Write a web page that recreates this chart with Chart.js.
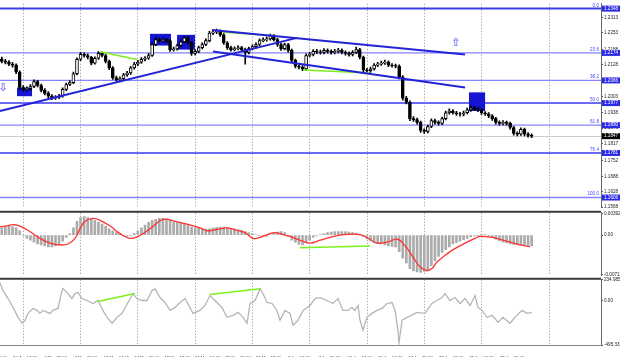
<!DOCTYPE html>
<html><head><meta charset="utf-8">
<script src="https://cdn.jsdelivr.net/npm/chart.js@4.4.1/dist/chart.umd.min.js"></script>
<style>
html,body{margin:0;padding:0;background:#fff;width:620px;height:357px;overflow:hidden;position:relative}
canvas{position:absolute}
</style></head><body>
<canvas id="cp" width="660" height="211" style="left:-40px;top:0px;width:660px;height:211px"></canvas>
<canvas id="cm" width="660" height="70" style="left:-40px;top:209px;width:660px;height:70px"></canvas>
<canvas id="cc" width="660" height="81" style="left:-40px;top:276px;width:660px;height:81px"></canvas>
<script>
// ---------------- DATA ----------------
const timeLabels = ["27 Apr 12:00","30 Apr 04:00","4 May 20:00","7 May 12:00","12 May 04:00","14 May 20:00","19 May 12:00","24 May 04:00","26 May 20:00","31 May 12:00","3 Jun 04:00","7 Jun 20:00","10 Jun 12:00","15 Jun 04:00","17 Jun 20:00","22 Jun 12:00","25 Jun 04:00","29 Jun 20:00"];

const opens = [
1.2150,1.2141,1.2138,1.2130,1.2126,1.2099,1.2038,1.2031,1.2034,1.2042,
1.2061,1.2046,1.2027,1.2015,1.2004,1.1996,1.1999,1.2004,1.2031,1.2050,
1.2057,1.2092,1.2149,1.2168,1.2164,1.2157,1.2134,1.2153,1.2172,1.2164,
1.2141,1.2115,1.2076,1.2069,1.2073,1.2088,1.2095,1.2115,1.2130,1.2138,
1.2149,1.2153,1.2164,1.2207,1.2226,1.2222,1.2226,1.2222,1.2187,1.2190,
1.2203,1.2218,1.2233,1.2214,1.2172,1.2180,1.2195,1.2207,1.2222,1.2252,
1.2256,1.2260,1.2245,1.2214,1.2195,1.2187,1.2191,1.2195,1.2187,1.2176,
1.2191,1.2199,1.2207,1.2222,1.2226,1.2229,1.2241,1.2226,1.2207,1.2191,
1.2207,1.2184,1.2145,1.2122,1.2118,1.2111,1.2164,1.2168,1.2180,1.2178,
1.2176,1.2184,1.2180,1.2176,1.2180,1.2184,1.2176,1.2172,1.2168,1.2176,
1.2187,1.2157,1.2107,1.2103,1.2111,1.2126,1.2130,1.2134,1.2138,1.2126,
1.2124,1.2122,1.2080,1.1996,1.1981,1.1916,1.1912,1.1901,1.1870,1.1866,
1.1885,1.1908,1.1901,1.1897,1.1916,1.1939,1.1946,1.1939,1.1935,1.1933,
1.1939,1.1950,1.1958,1.1955,1.1950,1.1939,1.1935,1.1927,1.1916,1.1901,
1.1897,1.1901,1.1897,1.1881,1.1858,1.1855,1.1874,1.1855,1.1850];
const highs = [
1.2158,1.2149,1.2144,1.2137,1.2131,1.2104,1.2046,1.2041,1.2050,1.2068,
1.2066,1.2052,1.2034,1.2022,1.2010,1.2006,1.2011,1.2037,1.2056,1.2064,
1.2099,1.2155,1.2176,1.2174,1.2170,1.2161,1.2159,1.2179,1.2178,1.2168,
1.2146,1.2120,1.2083,1.2080,1.2094,1.2102,1.2121,1.2137,1.2145,1.2156,
1.2160,1.2171,1.2213,1.2234,1.2232,1.2233,1.2231,1.2227,1.2197,1.2209,
1.2225,1.2240,1.2238,1.2219,1.2187,1.2201,1.2214,1.2229,1.2259,1.2264,
1.2268,1.2265,1.2250,1.2219,1.2201,1.2198,1.2203,1.2200,1.2193,1.2197,
1.2206,1.2214,1.2229,1.2233,1.2237,1.2248,1.2246,1.2231,1.2212,1.2213,
1.2212,1.2189,1.2150,1.2128,1.2124,1.2170,1.2176,1.2187,1.2188,1.2185,
1.2191,1.2190,1.2186,1.2188,1.2192,1.2190,1.2182,1.2178,1.2183,1.2197,
1.2192,1.2162,1.2113,1.2118,1.2132,1.2137,1.2142,1.2146,1.2143,1.2132,
1.2130,1.2127,1.2085,1.2003,1.1986,1.1924,1.1918,1.1906,1.1876,1.1891,
1.1915,1.1914,1.1907,1.1922,1.1946,1.1954,1.1951,1.1945,1.1941,1.1946,
1.1957,1.1966,1.1964,1.1960,1.1955,1.1944,1.1940,1.1932,1.1921,1.1907,
1.1908,1.1906,1.1902,1.1886,1.1864,1.1880,1.1879,1.1861,1.1856];
const lows = [
1.2135,1.2131,1.2124,1.2118,1.2092,1.2030,1.2024,1.2025,1.2028,1.2037,
1.2040,1.2021,1.2009,1.1998,1.1990,1.1991,1.1994,1.2000,1.2026,1.2045,
1.2053,1.2088,1.2144,1.2157,1.2150,1.2127,1.2130,1.2148,1.2158,1.2135,
1.2108,1.2070,1.2062,1.2064,1.2068,1.2082,1.2090,1.2110,1.2124,1.2133,
1.2143,1.2148,1.2160,1.2202,1.2215,1.2216,1.2214,1.2180,1.2181,1.2185,
1.2198,1.2212,1.2207,1.2164,1.2166,1.2175,1.2190,1.2202,1.2217,1.2246,
1.2250,1.2239,1.2207,1.2188,1.2181,1.2182,1.2186,1.2180,1.2130,1.2170,
1.2186,1.2193,1.2202,1.2217,1.2220,1.2224,1.2220,1.2200,1.2184,1.2186,
1.2177,1.2138,1.2115,1.2111,1.2104,1.2106,1.2158,1.2162,1.2171,1.2169,
1.2170,1.2173,1.2169,1.2170,1.2174,1.2170,1.2165,1.2161,1.2162,1.2171,
1.2150,1.2100,1.2096,1.2097,1.2106,1.2120,1.2125,1.2129,1.2120,1.2118,
1.2115,1.2072,1.1988,1.1974,1.1908,1.1905,1.1894,1.1862,1.1858,1.1860,
1.1880,1.1894,1.1890,1.1892,1.1911,1.1933,1.1933,1.1928,1.1926,1.1927,
1.1934,1.1944,1.1948,1.1943,1.1932,1.1928,1.1920,1.1909,1.1894,1.1890,
1.1891,1.1890,1.1874,1.1851,1.1848,1.1850,1.1848,1.1843,1.1841];
const closes = [
1.2141,1.2138,1.2130,1.2126,1.2099,1.2038,1.2031,1.2034,1.2042,1.2061,
1.2046,1.2027,1.2015,1.2004,1.1996,1.1999,1.2004,1.2031,1.2050,1.2057,
1.2092,1.2149,1.2168,1.2164,1.2157,1.2134,1.2153,1.2172,1.2164,1.2141,
1.2115,1.2076,1.2069,1.2073,1.2088,1.2095,1.2115,1.2130,1.2138,1.2149,
1.2153,1.2164,1.2207,1.2226,1.2222,1.2226,1.2222,1.2187,1.2190,1.2203,
1.2218,1.2233,1.2214,1.2172,1.2180,1.2195,1.2207,1.2222,1.2252,1.2256,
1.2260,1.2245,1.2214,1.2195,1.2187,1.2191,1.2195,1.2187,1.2176,1.2191,
1.2199,1.2207,1.2222,1.2226,1.2229,1.2241,1.2226,1.2207,1.2191,1.2207,
1.2184,1.2145,1.2122,1.2118,1.2111,1.2164,1.2168,1.2180,1.2178,1.2176,
1.2184,1.2180,1.2176,1.2180,1.2184,1.2176,1.2172,1.2168,1.2176,1.2187,
1.2157,1.2107,1.2103,1.2111,1.2126,1.2130,1.2134,1.2138,1.2126,1.2124,
1.2122,1.2080,1.1996,1.1981,1.1916,1.1912,1.1901,1.1870,1.1866,1.1885,
1.1908,1.1901,1.1897,1.1916,1.1939,1.1946,1.1939,1.1935,1.1933,1.1939,
1.1950,1.1958,1.1955,1.1950,1.1939,1.1935,1.1927,1.1916,1.1901,1.1897,
1.1901,1.1897,1.1881,1.1858,1.1855,1.1874,1.1855,1.1850,1.1847];

const macdHist = [
0.00133,0.00150,0.00167,0.00159,0.00133,0.00081,-0.00005,-0.00057,-0.00092,-0.00126,
-0.00161,-0.00178,-0.00195,-0.00212,-0.00212,-0.00195,-0.00178,-0.00109,-0.00040,0.00029,
0.00133,0.00254,0.00323,0.00340,0.00323,0.00306,0.00271,0.00237,0.00202,0.00167,
0.00116,0.00081,0.00047,0.00029,-0.00005,-0.00022,-0.00005,0.00029,0.00081,0.00133,
0.00185,0.00237,0.00271,0.00288,0.00306,0.00306,0.00297,0.00271,0.00237,0.00228,
0.00219,0.00202,0.00185,0.00150,0.00133,0.00133,0.00124,0.00116,0.00116,0.00133,
0.00142,0.00150,0.00150,0.00133,0.00124,0.00116,0.00098,0.00090,0.00064,0.00047,
0.00029,0.00012,-0.00005,-0.00014,-0.00022,0.00012,0.00038,0.00055,0.00064,0.00047,
-0.00022,-0.00092,-0.00126,-0.00169,-0.00178,-0.00143,-0.00092,-0.00040,-0.00014,0.00012,
0.00029,0.00047,0.00055,0.00064,0.00064,0.00064,0.00064,0.00055,0.00047,0.00038,
0.00012,-0.00022,-0.00057,-0.00092,-0.00135,-0.00152,-0.00161,-0.00178,-0.00195,-0.00204,
-0.00212,-0.00299,-0.00420,-0.00506,-0.00609,-0.00653,-0.00670,-0.00679,-0.00661,-0.00627,
-0.00558,-0.00471,-0.00385,-0.00316,-0.00264,-0.00212,-0.00161,-0.00135,-0.00109,-0.00083,
-0.00057,-0.00031,-0.00014,-0.00005,0.00003,0.00003,-0.00014,-0.00040,-0.00074,-0.00100,
-0.00126,-0.00143,-0.00161,-0.00169,-0.00178,-0.00178,-0.00178,-0.00186,-0.00195];

const signalBars = [0,4.5,7.3,11.2,16.8,22.3,27.9,33.5,38,41.9,44.7,47.5,52,55.9,61.5,67,72.6,78.2,83.8,91,97.8,104.5,111.7,115.6,120.1,126.8,131.3,136.9,141.3,145.3,149.2,153.6,158.1,162,167.6,173.2,178.8,184.4,191.6,201.1,205.6,210.6,216.2,222.3,226.3,229.1,231.8,234.6,238.5,241.3,244.1,248,251.4,255.9,260.9,265.4,268.2,274.9,279.3,284.9,290.5,296.1];
const signalVals = [0.00150,0.00176,0.00193,0.00167,0.00064,-0.00057,-0.00143,-0.00178,-0.00161,-0.00057,0.00116,0.00254,0.00306,0.00271,0.00167,0.00029,-0.00057,-0.00005,0.00116,0.00288,0.00254,0.00202,0.00133,0.00081,0.00098,0.00133,0.00098,0.00047,-0.00057,-0.00040,0.00012,0.00047,0.00012,-0.00022,-0.00092,-0.00143,-0.00092,-0.00040,0.00012,0.00012,-0.00057,-0.00143,-0.00126,-0.00074,-0.00195,-0.00316,-0.00454,-0.00575,-0.00644,-0.00609,-0.00489,-0.00385,-0.00299,-0.00212,-0.00126,-0.00057,-0.00022,-0.00040,-0.00074,-0.00126,-0.00178,-0.00212];

const cciBars = [0,1.7,4.5,7.3,10.1,12.3,14,15.6,18.4,20.7,22.3,24,27.9,29.6,32.4,34.6,35.2,37.4,40.2,41.9,43.6,45.8,48.6,52,54.7,57.5,59.8,62.6,65.4,68.2,71.5,74.3,76.5,79.3,82.1,84.9,86.6,89.4,92.2,95,97.8,100.6,103.4,106.1,107.8,111.7,114.5,117.3,121.2,124,126.8,130.2,133,135.8,138,139.7,142.5,145.3,146.9,149.2,152,154.7,156.4,159.2,162,163.7,166.5,169.3,173.2,176,178.8,182.7,186,188.8,191.6,194.4,196.6,198.3,200,201.1,202.8,205,207.8,210.6,213.4,216.2,219,220.7,222.3,222.9,224.6,227.4,233,237.4,241.3,244.1,246.9,248.6,251.4,254.2,257,259.8,262.6,265.4,267,269.3,272.1,274.9,278.2,281,284.9,287.7,291.6,294.4,297.2];
const cciVals = [201.8,113.3,24.8,-74.8,-185.5,-251.9,-218.7,-141.2,-85.9,-108.0,-141.2,-108.0,-141.2,-108.0,-85.9,113.3,135.4,91.1,24.8,80.1,91.1,24.8,2.6,-30.6,2.6,-108.0,-185.5,-251.9,-185.5,-141.2,-19.5,80.1,24.8,2.6,2.6,113.3,135.4,35.8,-19.5,-108.0,-74.8,-19.5,24.8,-74.8,-141.2,-108.0,-52.7,57.9,-19.5,-74.8,-185.5,-163.4,-130.2,-185.5,-251.9,-30.6,2.6,135.4,80.1,-19.5,-30.6,-108.0,-218.7,-108.0,-141.2,-274.0,-218.7,-108.0,-52.7,24.8,35.8,2.6,-30.6,24.8,-108.0,-108.0,-74.8,-108.0,-52.7,-218.7,-329.3,-185.5,-141.2,-108.0,-85.9,-30.6,-19.5,-108.0,-329.3,-473.2,-218.7,-185.5,-130.2,-141.2,-30.6,2.6,35.8,80.1,2.6,35.8,-30.6,24.8,-52.7,57.9,-74.8,-108.0,-185.5,-163.4,-240.8,-185.5,-251.9,-185.5,-108.0,-141.2,-130.2];

const priceTicks = [1.2313,1.2253,1.2188,1.2128,1.2003,1.1938,1.1879,1.1817,1.1752,1.1688,1.1628,1.1568];
const fibPrices = [1.2348,1.2174,1.2066,1.1977,1.1890,1.1781,1.1606];
const fibNames = ["0.0","23.6","38.2","50.0","61.8","76.4","100.0"];
const lastPrice = 1.1847;
const macdTicks = [0.00392,0,-0.00713];
const macdTickLabels = ["0.00392","0.00","-0.00713"];
const cciTicks = [234.9851,0,-495.331];
const cciTickLabels = ["234.9851","0.00","-495.331"];

// annotations in data units: [bar1, value1, bar2, value2]
const trendLines = [[0,1.1946,165.9,1.2233],[118.4,1.2264,259.8,1.2168],[119,1.2180,259.8,1.2038]];
const priceGreen = [[55.9,1.2179,76.5,1.2148],[124,1.2256,152,1.2241],[169.3,1.2107,206.7,1.2095]];
const macdGreen = [[167.6,-0.00230,206.7,-0.00195]];
const cciGreen = [[54.7,-8.4,75.4,80.1],[117.3,69.0,145.3,135.4]];
// zones: [bar1, bar2, priceTop, priceBottom]
const zones = [[9.5,17.9,1.2038,1.2004],[83.8,95.5,1.2249,1.2203],[98.9,108.9,1.2245,1.2187],[262,271,1.2019,1.1946]];
// arrows: [bar, price, glyph]
const arrows = [[1.7,1.2034,"⇩"],[254.7,1.2214,"⇧"]];

// ---------------- LAYOUT ----------------
const X_MIN = -22.35, X_MAX = 335.75;
const gridBars = [12.85,44.7,76.5,108.9,140.8,172.6,205,236.9,268.7,306.7];
const LABEL_START = -3, LABEL_STEP = 17;
const FONT = "'Liberation Sans', Arial, sans-serif";
const fibStrong = [true,false,false,true,false,true,false];

function vGrid(chart){
  const {ctx, chartArea:a, scales:{x}} = chart;
  ctx.save(); ctx.strokeStyle='#8e8e8e'; ctx.lineWidth=1; ctx.setLineDash([1,2]);
  gridBars.forEach(b=>{ const px=Math.round(x.getPixelForValue(b))+0.5;
    ctx.beginPath(); ctx.moveTo(px,a.top); ctx.lineTo(px,a.bottom); ctx.stroke(); });
  ctx.restore();
}
function topSep(chart){
  const {ctx, chartArea:a} = chart;
  ctx.save(); ctx.fillStyle='#3a3a3a'; ctx.fillRect(a.left, a.top-2, a.right-a.left, 2); ctx.restore();
}
function segDatasets(arr, color, width){
  return arr.map(s=>({type:'line', data:[{x:s[0],y:s[1]},{x:s[2],y:s[3]}], borderColor:color, borderWidth:width, pointRadius:0, tension:0, order:0}));
}
function yAxis(min,max,ticks,labels){
  return {position:'right', min, max,
    afterBuildTicks: ax=>{ ax.ticks = ticks.map(v=>({value:v})); },
    ticks:{autoSkip:false, callback:(v,i)=>labels[i], font:{size:4.6, family:FONT}, color:'#222', padding:1},
    grid:{drawOnChartArea:false, drawTicks:true, tickLength:2, color:'#555'},
    border:{display:true, color:'#666', width:1},
    afterFit: s=>{ s.width = 19; }};
}
function xAxis(show){
  return {type:'linear', min:X_MIN, max:X_MAX, offset:false, display:show,
    afterBuildTicks: ax=>{ ax.ticks = timeLabels.map((_,k)=>({value:LABEL_START+LABEL_STEP*k})); },
    ticks:{autoSkip:false, maxRotation:0, minRotation:0, callback:(v,i)=>timeLabels[i], font:{size:4.2, family:FONT}, color:'#222', padding:2},
    grid:{display:false},
    border:{display:true, color:'#888', width:1},
    afterFit: s=>{ s.height = show ? 12 : 0; }};
}
const common = {responsive:false, animation:false, events:[], plugins:{legend:{display:false}, tooltip:{enabled:false}}};

// ---------------- PRICE ----------------
const barIdx = closes.map((_,i)=>2*i+1);
const priceDecor = {
  id:'priceDecor',
  beforeDatasetsDraw(chart){
    const {ctx, chartArea:a, scales:{x,y}} = chart;
    vGrid(chart);
    ctx.save();
    const by = Math.round(y.getPixelForValue(lastPrice))+0.5;
    ctx.strokeStyle='#cccccc'; ctx.lineWidth=1; ctx.beginPath(); ctx.moveTo(a.left,by); ctx.lineTo(a.right,by); ctx.stroke();
    fibPrices.forEach((p,i)=>{ const yy=y.getPixelForValue(p);
      ctx.strokeStyle = i===0 ? '#3a3ae6' : (fibStrong[i] ? '#6a6af6' : '#8484ff');
      ctx.lineWidth = fibStrong[i] ? 2 : 1.3;
      ctx.beginPath(); ctx.moveTo(a.left,yy); ctx.lineTo(a.right,yy); ctx.stroke(); });
    zones.forEach(z=>{ const x1=x.getPixelForValue(z[0]), x2=x.getPixelForValue(z[1]), y1=y.getPixelForValue(z[2]), y2=y.getPixelForValue(z[3]);
      ctx.fillStyle='#1414d2'; ctx.fillRect(x1,y1,x2-x1,y2-y1); });
    ctx.restore();
  },
  afterDraw(chart){
    const {ctx, chartArea:a, scales:{x,y}} = chart;
    ctx.save();
    ctx.font = `4.6px ${FONT}`; ctx.textBaseline='middle';
    fibPrices.forEach((p,i)=>{ const yy=y.getPixelForValue(p);
      ctx.fillStyle='#2a2ae8'; ctx.fillRect(a.right+1, yy-3, 18, 6);
      ctx.fillStyle='#fff'; ctx.textAlign='left'; ctx.fillText(p.toFixed(4), a.right+3, yy);
      ctx.fillStyle='#4848ff'; ctx.textAlign='right'; ctx.textBaseline='bottom'; ctx.fillText(fibNames[i], a.right-2, yy-1); ctx.textBaseline='middle'; });
    const ly = y.getPixelForValue(lastPrice);
    ctx.fillStyle='#000'; ctx.fillRect(a.right+1, ly-3, 18, 6);
    ctx.fillStyle='#fff'; ctx.textAlign='left'; ctx.fillText(lastPrice.toFixed(4), a.right+3, ly);
    ctx.font = `11px 'DejaVu Sans', sans-serif`; ctx.textAlign='center';
    arrows.forEach(r=>{ ctx.fillStyle='#3b3bff'; ctx.fillText(r[2], x.getPixelForValue(r[0]), y.getPixelForValue(r[1])); });
    ctx.restore();
  }
};
new Chart(document.getElementById('cp'), {
  type:'bar',
  data:{datasets:[
    ...segDatasets(trendLines,'#2323d8',2),
    ...segDatasets(priceGreen,'#7ef01c',1.5),
    {type:'bar', data:closes.map((c,i)=>({x:barIdx[i], y:[opens[i],c]})), backgroundColor:closes.map((c,i)=>c>=opens[i]?'#ffffff':'#000000'), borderColor:'#000', borderWidth:1, borderSkipped:false, barThickness:3, grouped:false, order:4},
    {type:'bar', data:closes.map((c,i)=>({x:barIdx[i], y:[lows[i],highs[i]]})), backgroundColor:'#000', barThickness:1, grouped:false, order:5}
  ]},
  options:{...common, layout:{padding:{left:0,right:0,top:0,bottom:2}},
    scales:{x:xAxis(false), y:yAxis(1.15678,1.23671,priceTicks,priceTicks.map(v=>v.toFixed(4)))}},
  plugins:[priceDecor]
});

// ---------------- MACD ----------------
new Chart(document.getElementById('cm'), {
  type:'bar',
  data:{datasets:[
    {type:'line', data:signalBars.map((b,i)=>({x:b,y:signalVals[i]})), borderColor:'#ff3030', borderWidth:1.3, pointRadius:0, tension:0.4, order:1},
    ...segDatasets(macdGreen,'#7ef01c',1.5),
    {type:'bar', data:macdHist.map((v,i)=>({x:barIdx[i], y:v})), backgroundColor:'#ababab', barThickness:2, grouped:false, order:5}
  ]},
  options:{...common, layout:{padding:{left:0,right:0,top:2,bottom:2}},
    scales:{x:xAxis(false), y:yAxis(-0.007303,0.004093,macdTicks,macdTickLabels)}},
  plugins:[{id:'m', beforeDatasetsDraw(c){ vGrid(c); topSep(c); }}]
});

// ---------------- CCI ----------------
new Chart(document.getElementById('cc'), {
  type:'line',
  data:{datasets:[
    ...segDatasets(cciGreen,'#7ef01c',1.5),
    {type:'line', data:cciBars.map((b,i)=>({x:b,y:cciVals[i]})), borderColor:'#b5b5b5', borderWidth:1.3, pointRadius:0, tension:0, order:3}
  ]},
  options:{...common, layout:{padding:{left:0,right:0,top:3,bottom:0}},
    scales:{x:xAxis(true), y:yAxis(-495.331,234.9851,cciTicks,cciTickLabels)}},
  plugins:[{id:'c', beforeDatasetsDraw(c){ vGrid(c); topSep(c); }}]
});
</script></body></html>
